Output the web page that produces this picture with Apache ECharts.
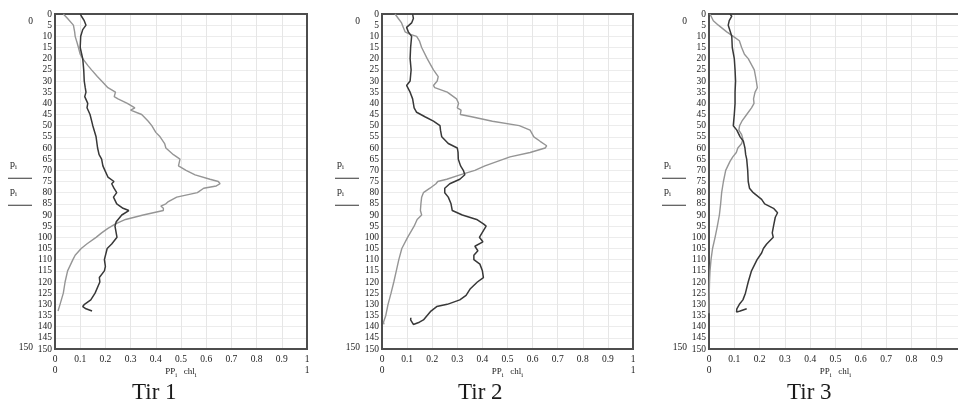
<!DOCTYPE html>
<html>
<head>
<meta charset="utf-8">
<script src="https://cdn.jsdelivr.net/npm/echarts@6/dist/echarts.min.js"></script>
<style>
html,body{margin:0;padding:0;background:#fff;}
#chart{width:958px;height:403px;}
</style>
</head>
<body>
<div id="chart"></div>
<script>
// ---- Data (depth, value) ----
const titles = ['Tir 1', 'Tir 2', 'Tir 3'];
const xTicks = [0, 1];
const yRange = [0, 150];

// Tir 1
const t1GrayDepth = [0,2,5,8,10,13,15,18,20,23,25,28,30,33,35,37,38,40,42,43,45,48,50,53,55,58,60,63,65,68,70,72,74,75,76,77,78,80,82,84,85,86,87,88,89,90,92,94,96,98,100,103,105,108,110,115,120,125,130,133];
const t1GrayVal   = [0.033,0.05,0.073,0.078,0.08,0.088,0.093,0.10,0.11,0.13,0.145,0.168,0.185,0.21,0.24,0.235,0.25,0.287,0.317,0.30,0.344,0.37,0.384,0.40,0.417,0.435,0.44,0.47,0.496,0.49,0.52,0.556,0.615,0.648,0.655,0.64,0.59,0.565,0.483,0.45,0.44,0.42,0.43,0.43,0.39,0.35,0.28,0.24,0.21,0.185,0.163,0.126,0.104,0.08,0.071,0.05,0.04,0.033,0.02,0.012];
const t1DarkDepth = [0,1,3,5,7,10,15,20,25,30,33,35,37,40,42,45,50,55,60,63,65,68,70,73,75,76,78,80,82,85,87,88,90,93,95,100,103,105,110,113,115,118,120,125,128,130,131,132,133];
const t1DarkVal   = [0.10,0.105,0.116,0.123,0.11,0.102,0.10,0.11,0.114,0.116,0.12,0.123,0.118,0.13,0.127,0.139,0.15,0.163,0.169,0.175,0.185,0.19,0.198,0.21,0.234,0.225,0.234,0.245,0.232,0.245,0.27,0.293,0.265,0.243,0.238,0.246,0.225,0.207,0.196,0.2,0.196,0.176,0.178,0.159,0.142,0.117,0.11,0.123,0.147];

// Tir 2
const t2GrayDepth = [0,2,4,6,8,9,10,12,15,20,25,28,30,32,33,35,38,40,42,43,45,46,48,50,52,55,57,59,60,62,64,66,68,70,72,74,75,76,78,80,82,85,88,90,92,95,100,105,110,115,120,125,130,135,138,139];
const t2GrayVal   = [0.052,0.065,0.078,0.085,0.092,0.11,0.138,0.149,0.158,0.18,0.205,0.224,0.22,0.205,0.21,0.26,0.297,0.305,0.30,0.315,0.312,0.357,0.44,0.547,0.59,0.605,0.63,0.656,0.65,0.59,0.51,0.46,0.41,0.37,0.311,0.258,0.222,0.215,0.191,0.165,0.158,0.155,0.153,0.158,0.14,0.128,0.102,0.079,0.067,0.057,0.047,0.036,0.024,0.015,0.006,0.008];
const t2DarkDepth = [0,2,4,6,8,10,15,20,25,30,32,35,38,40,42,44,46,48,50,52,55,58,60,62,65,68,70,72,74,75,76,78,80,82,85,88,90,92,94,95,97,100,102,104,106,108,110,112,115,118,120,123,126,128,130,131,133,135,137,138,139,138.5,137,136];
const t2DarkVal   = [0.122,0.125,0.118,0.098,0.105,0.118,0.114,0.112,0.116,0.112,0.098,0.112,0.122,0.125,0.128,0.138,0.171,0.205,0.231,0.233,0.238,0.264,0.30,0.303,0.304,0.313,0.324,0.33,0.31,0.29,0.27,0.25,0.25,0.264,0.275,0.28,0.32,0.377,0.404,0.415,0.404,0.388,0.402,0.37,0.382,0.366,0.366,0.39,0.40,0.404,0.38,0.352,0.335,0.31,0.26,0.218,0.195,0.18,0.165,0.149,0.125,0.118,0.114,0.115];

// Tir 3
const t3GrayDepth = [0,3,5,8,10,12,15,18,20,25,28,30,33,35,38,40,42,45,48,50,52,54,56,58,60,62,64,66,70,75,80,85,90,95,100,105,110,115,120,125,130,134];
const t3GrayVal   = [0.004,0.017,0.037,0.07,0.096,0.12,0.129,0.14,0.155,0.179,0.184,0.187,0.191,0.182,0.176,0.178,0.168,0.149,0.13,0.121,0.118,0.129,0.134,0.129,0.114,0.108,0.094,0.083,0.066,0.057,0.05,0.046,0.041,0.033,0.024,0.014,0.008,0.004,0.002,0.001,0,0];
const t3DarkDepth = [0,1,3,5,10,15,20,25,30,35,40,45,50,52,55,57,60,63,65,70,75,78,80,83,85,87,89,91,95,98,100,103,105,107,110,115,120,125,128,130,132,133.5,133,132];
const t3DarkVal   = [0.083,0.09,0.08,0.076,0.09,0.092,0.10,0.103,0.105,0.103,0.103,0.10,0.096,0.11,0.123,0.136,0.142,0.145,0.149,0.153,0.155,0.16,0.175,0.208,0.22,0.255,0.271,0.262,0.255,0.25,0.254,0.228,0.215,0.208,0.19,0.168,0.155,0.144,0.134,0.12,0.11,0.109,0.123,0.149];

const panels = [
  {gray:[t1GrayDepth,t1GrayVal], dark:[t1DarkDepth,t1DarkVal]},
  {gray:[t2GrayDepth,t2GrayVal], dark:[t2DarkDepth,t2DarkVal]},
  {gray:[t3GrayDepth,t3GrayVal], dark:[t3DarkDepth,t3DarkVal]}
];

// ---- Layout ----
const layout = [
  {left:55, width:252, titleLeft:132},
  {left:382, width:251, titleLeft:458},
  {left:709, width:253, titleLeft:787}
];
const FONT = 'Liberation Serif';
const TXT = '#1a1a1a';

function zip(d, v){ return d.map((dd,i)=>[v[i], dd]); }

const option = {
  animation:false,
  backgroundColor:'#fff',
  title:[], grid:[], xAxis:[], yAxis:[], series:[]
};

layout.forEach((L, i) => {
  option.grid.push({left:L.left, top:14, width:L.width, height:335, show:true, borderColor:'#4d4d4d', borderWidth:2,
    containLabel:false, outerBoundsMode:'none', z:3});
  option.title.push({text:titles[i], left:L.titleLeft, top:381, padding:0,
    textStyle:{fontFamily:FONT, fontSize:23, fontWeight:'normal', color:TXT}});
  // primary x
  option.xAxis.push({type:'value', gridIndex:i, position:'bottom', min:0, max:1, interval:0.1,
    axisLine:{show:false}, axisTick:{show:false},
    axisLabel:{fontFamily:FONT, fontSize:9.5, color:TXT, margin:5,
      formatter:v => (v===0||v===1) ? String(v) : v.toFixed(1)},
    splitLine:{show:true, lineStyle:{color:'#e6e6e6', width:1}}});
  // secondary x (range limits + name)
  option.xAxis.push({type:'value', gridIndex:i, position:'bottom', offset:11, min:xTicks[0], max:xTicks[1], interval:1,
    axisLine:{show:false}, axisTick:{show:false}, splitLine:{show:false},
    axisLabel:{fontFamily:FONT, fontSize:9.5, color:TXT, margin:5},
    name:'{n|PP}{s|i}  {n|chl}{s|i}', nameLocation:'middle', nameGap:5, nameMoveOverlap:false,
    nameTextStyle:{verticalAlign:'top', rich:{
      n:{fontFamily:FONT, fontSize:9, color:TXT},
      s:{fontFamily:FONT, fontSize:6.5, color:TXT, padding:[7,0,0,0]}
    }}});
  // primary y
  option.yAxis.push({type:'value', gridIndex:i, position:'left', inverse:true, min:0, max:150, interval:5,
    axisLine:{show:false}, axisTick:{show:false},
    axisLabel:{fontFamily:FONT, fontSize:9.5, color:TXT, margin:3},
    splitLine:{show:true, lineStyle:{color:'#ececec', width:1}},
    name:'{p|p}{s|i}\n{l|}\n{p|p}{s|i}\n{l|}', nameLocation:'middle', nameGap:23, nameRotate:0, nameMoveOverlap:false,
    nameTextStyle:{align:'right', verticalAlign:'middle', padding:[7,0,0,0], rich:{
      p:{fontFamily:FONT, fontSize:10, color:TXT, lineHeight:13.5},
      s:{fontFamily:FONT, fontSize:7, color:TXT, lineHeight:13.5, padding:[5,15,0,0]},
      l:{width:24, height:1, lineHeight:13.5, backgroundColor:'#333'}
    }}});
  // secondary y (range limits)
  option.yAxis.push({type:'value', gridIndex:i, position:'left', inverse:true, min:yRange[0], max:yRange[1], interval:150, offset:19,
    axisLine:{show:false}, axisTick:{show:false}, splitLine:{show:false},
    axisLabel:{fontFamily:FONT, fontSize:9.5, color:TXT, margin:3,
      formatter:v => v===0 ? '{t|0}' : '{b|' + v + '}',
      rich:{t:{fontFamily:FONT, fontSize:9.5, color:TXT, padding:[14,0,0,0]},
            b:{fontFamily:FONT, fontSize:9.5, color:TXT, padding:[0,0,4,0]}}}});

  const P = panels[i];
  option.series.push({type:'line', name:'chl', xAxisIndex:2*i, yAxisIndex:2*i, data:zip(P.gray[0],P.gray[1]),
    showSymbol:false, symbol:'none', lineStyle:{color:'#959595', width:1.4}, z:3});
  option.series.push({type:'line', name:'PP', xAxisIndex:2*i, yAxisIndex:2*i, data:zip(P.dark[0],P.dark[1]),
    showSymbol:false, symbol:'none', lineStyle:{color:'#383838', width:1.5}, z:4});
});

const chart = echarts.init(document.getElementById('chart'), null, {renderer:'canvas'});
chart.setOption(option);
</script>
</body>
</html>
